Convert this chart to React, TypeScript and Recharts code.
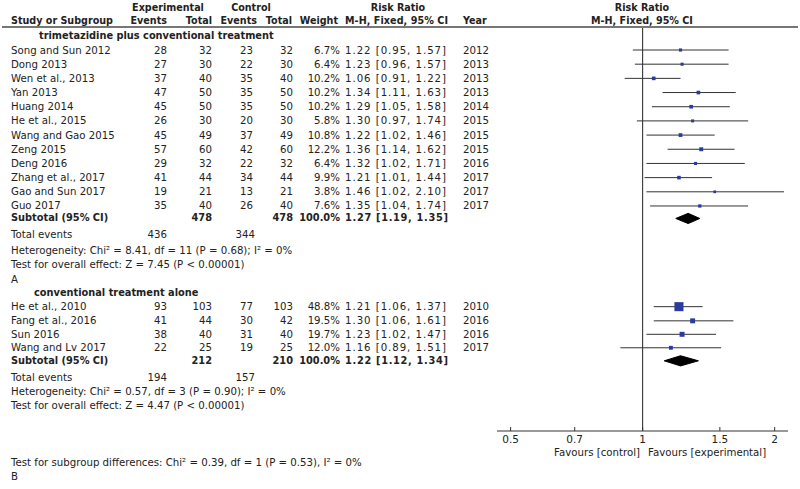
import React from "react";
import { ComposedChart, ErrorBar, ReferenceLine, Scatter, XAxis, YAxis } from "recharts";

// subgroup 1: trimetazidine plus conventional treatment
const studies1 = [
  "Song and Sun 2012", "Dong 2013", "Wen et al., 2013", "Yan 2013", "Huang 2014", "He et al., 2015",
  "Wang and Gao 2015", "Zeng 2015", "Deng 2016", "Zhang et al., 2017", "Gao and Sun 2017", "Guo 2017",
];
const expEvents1 = [28, 27, 37, 47, 45, 26, 45, 57, 29, 41, 19, 35];
const expTotal1 = [32, 30, 40, 50, 50, 30, 49, 60, 32, 44, 21, 40];
const ctlEvents1 = [23, 22, 35, 35, 35, 20, 37, 42, 22, 34, 13, 26];
const ctlTotal1 = [32, 30, 40, 50, 50, 30, 49, 60, 32, 44, 21, 40];
const weight1 = [6.7, 6.4, 10.2, 10.2, 10.2, 5.8, 10.8, 12.2, 6.4, 9.9, 3.8, 7.6];
const rr1 = [1.22, 1.23, 1.06, 1.34, 1.29, 1.3, 1.22, 1.36, 1.32, 1.21, 1.46, 1.35];
const lo1 = [0.95, 0.96, 0.91, 1.11, 1.05, 0.97, 1.02, 1.14, 1.02, 1.01, 1.02, 1.04];
const hi1 = [1.57, 1.57, 1.22, 1.63, 1.58, 1.74, 1.46, 1.62, 1.71, 1.44, 2.1, 1.74];
const years1 = [2012, 2013, 2013, 2013, 2014, 2015, 2015, 2015, 2016, 2017, 2017, 2017];

// subgroup 2: conventional treatment alone
const studies2 = ["He et al., 2010", "Fang et al., 2016", "Sun 2016", "Wang and Lv 2017"];
const expEvents2 = [93, 41, 38, 22];
const expTotal2 = [103, 44, 40, 25];
const ctlEvents2 = [77, 30, 31, 19];
const ctlTotal2 = [103, 42, 40, 25];
const weight2 = [48.8, 19.5, 19.7, 12.0];
const rr2 = [1.21, 1.3, 1.23, 1.16];
const lo2 = [1.06, 1.06, 1.02, 0.89];
const hi2 = [1.37, 1.61, 1.47, 1.51];
const years2 = [2010, 2016, 2016, 2017];

// subtotals [rr, lo, hi]
const subtotal1 = [1.27, 1.19, 1.35];
const subtotal2 = [1.22, 1.12, 1.34];
const totals1 = { expEvents: 436, ctlEvents: 344, expTotal: 478, ctlTotal: 478 };
const totals2 = { expEvents: 194, ctlEvents: 157, expTotal: 212, ctlTotal: 210 };

const ticks = [0.5, 0.7, 1, 1.5, 2];

const FONT = "'DejaVu Sans', sans-serif";
const FS = 10.2;
const FSB = 9.6;
const TXT = "#222";
const BLUE = "#2b3a9e";

// row layout (rows of ~14.2px, row 0 = first study)
const ROW0 = 50;
const ROWH = 14.18;
const rowY = (r: number) => ROW0 + r * ROWH;
const PLOT_TOP = 28;
const PLOT_BOTTOM = 431;
const rMin = (PLOT_TOP - ROW0) / ROWH;
const rMax = (PLOT_BOTTOM - ROW0) / ROWH;

const rows1 = studies1.map((_, i) => i);
const rows2 = [18.1, 19.1, 20.05, 21.0];
const subRow1 = 11.88;
const subRow2 = 21.92;

const fmt = (rr: number, lo: number, hi: number) => `${rr.toFixed(2)} [${lo.toFixed(2)}, ${hi.toFixed(2)}]`;

const points = [
  ...studies1.map((name, i) => ({ name, x: rr1[i], y: rows1[i], w: weight1[i], err: [rr1[i] - lo1[i], hi1[i] - rr1[i]] })),
  ...studies2.map((name, i) => ({ name, x: rr2[i], y: rows2[i], w: weight2[i], err: [rr2[i] - lo2[i], hi2[i] - rr2[i]] })),
];

const diamond = (s: number[], r: number) => [
  { x: s[1], y: r },
  { x: s[0], y: r - 0.36 },
  { x: s[2], y: r },
  { x: s[0], y: r + 0.36 },
  { x: s[1], y: r },
];

const Square = (props: any) => {
  const { cx, cy, payload } = props;
  const s = 0.14 * payload.w + 2.2;
  return <rect x={cx - s / 2} y={cy - s / 2} width={s} height={s} fill={BLUE} />;
};

type T = { x: number; r: number; text: string | number; anchor?: "start" | "middle" | "end"; bold?: boolean; len?: number };

function tableTexts(): T[] {
  const t: T[] = [];
  const studyRow = (r: number, name: string, ee: number, et: number, ce: number, ct: number, w: number, rr: number, lo: number, hi: number, yr: number) => {
    t.push({ x: 11, r, text: name });
    t.push({ x: 167, r, text: ee, anchor: "end" });
    t.push({ x: 212, r, text: et, anchor: "end" });
    t.push({ x: 253, r, text: ce, anchor: "end" });
    t.push({ x: 293, r, text: ct, anchor: "end" });
    t.push({ x: 340, r, text: `${w.toFixed(1)}%`, anchor: "end" });
    t.push({ x: 345, r, text: fmt(rr, lo, hi), len: 101 });
    t.push({ x: 463, r, text: yr });
  };
  t.push({ x: 39, r: -1, text: "trimetazidine plus conventional treatment", bold: true });
  studies1.forEach((n, i) => studyRow(rows1[i], n, expEvents1[i], expTotal1[i], ctlEvents1[i], ctlTotal1[i], weight1[i], rr1[i], lo1[i], hi1[i], years1[i]));
  const sub = (r: number, tot: typeof totals1, s: number[]) => {
    t.push({ x: 11, r, text: "Subtotal (95% CI)", bold: true });
    t.push({ x: 212, r, text: tot.expTotal, anchor: "end", bold: true });
    t.push({ x: 293, r, text: tot.ctlTotal, anchor: "end", bold: true });
    t.push({ x: 340, r, text: "100.0%", anchor: "end", bold: true });
    t.push({ x: 345, r, text: fmt(s[0], s[1], s[2]), bold: true, len: 103 });
  };
  sub(11.8, totals1, subtotal1);
  t.push({ x: 11, r: 12.98, text: "Total events" });
  t.push({ x: 167, r: 12.98, text: totals1.expEvents, anchor: "end" });
  t.push({ x: 255, r: 12.98, text: totals1.ctlEvents, anchor: "end" });
  t.push({ x: 11, r: 14.12, text: "Heterogeneity: Chi² = 8.41, df = 11 (P = 0.68); I² = 0%" });
  t.push({ x: 11, r: 15.14, text: "Test for overall effect: Z = 7.45 (P < 0.00001)" });
  t.push({ x: 11, r: 16.22, text: "A" });
  t.push({ x: 34, r: 17.12, text: "conventional treatment alone", bold: true });
  studies2.forEach((n, i) => studyRow(rows2[i], n, expEvents2[i], expTotal2[i], ctlEvents2[i], ctlTotal2[i], weight2[i], rr2[i], lo2[i], hi2[i], years2[i]));
  sub(21.9, totals2, subtotal2);
  t.push({ x: 11, r: 23.08, text: "Total events" });
  t.push({ x: 167, r: 23.08, text: totals2.expEvents, anchor: "end" });
  t.push({ x: 255, r: 23.08, text: totals2.ctlEvents, anchor: "end" });
  t.push({ x: 11, r: 24.1, text: "Heterogeneity: Chi² = 0.57, df = 3 (P = 0.90); I² = 0%" });
  t.push({ x: 11, r: 25.04, text: "Test for overall effect: Z = 4.47 (P < 0.00001)" });
  t.push({ x: 11, r: 29.1, text: "Test for subgroup differences: Chi² = 0.39, df = 1 (P = 0.53), I² = 0%" });
  t.push({ x: 11, r: 30.1, text: "B" });
  return t;
}

function Table() {
  const texts = tableTexts();
  const hdr = (x: number, y: number, text: string, anchor: "start" | "middle" | "end" = "start", len?: number) => (
    <text x={x} y={y} textAnchor={anchor} dominantBaseline="central" fontWeight="bold" fontSize={FSB}
      textLength={len} lengthAdjust={len ? "spacing" : undefined}>{text}</text>
  );
  return (
    <svg width={800} height={489} style={{ position: "absolute", left: 0, top: 0, pointerEvents: "none" }}
      fontFamily={FONT} fontSize={FS} fill={TXT}>
      {hdr(168, 7, "Experimental", "middle")}
      {hdr(251, 7, "Control", "middle")}
      {hdr(398, 7, "Risk Ratio", "middle")}
      {hdr(642, 7, "Risk Ratio", "middle")}
      {hdr(11, 20.5, "Study or Subgroup")}
      {hdr(167, 20.5, "Events", "end")}
      {hdr(212, 20.5, "Total", "end")}
      {hdr(257, 20.5, "Events", "end")}
      {hdr(292, 20.5, "Total", "end")}
      {hdr(338, 20.5, "Weight", "end")}
      {hdr(345, 20.5, "M-H, Fixed, 95% CI", "start", 103)}
      {hdr(463, 20.5, "Year")}
      {hdr(642, 20.5, "M-H, Fixed, 95% CI", "middle")}
      <line x1={2} x2={798} y1={27} y2={27} stroke="#777" strokeWidth={2} />
      {texts.map((t, i) => (
        <text key={i} x={t.x} y={rowY(t.r)} textAnchor={t.anchor ?? "start"} dominantBaseline="central"
          fontWeight={t.bold ? "bold" : "normal"} fontSize={t.bold ? FSB + 0.2 : FS}
          textLength={t.len} lengthAdjust={t.len ? "spacing" : undefined}>{t.text}</text>
      ))}
      <text x={640} y={452.5} textAnchor="end" dominantBaseline="central">Favours [control]</text>
      <text x={648} y={452.5} textAnchor="start" dominantBaseline="central">Favours [experimental]</text>
    </svg>
  );
}

export default function App() {
  return (
    <div style={{ position: "absolute", left: 0, top: 0, width: 800, height: 489, background: "#fff" }}>
      <ComposedChart width={800} height={489} margin={{ top: PLOT_TOP, right: 12, bottom: 489 - PLOT_BOTTOM - 30, left: 497 }}>
        <XAxis type="number" dataKey="x" scale="log" domain={[0.4655, 2.145]} allowDataOverflow ticks={ticks}
          height={30} stroke="#333" tickSize={-4} tickMargin={9}
          tick={{ fontSize: FS + 0.3, fill: TXT, fontFamily: FONT }} tickFormatter={(v: number) => String(v)} />
        <YAxis type="number" dataKey="y" domain={[rMin, rMax]} reversed hide allowDataOverflow />
        <ReferenceLine x={1} stroke="#222" strokeWidth={1} />
        <Scatter data={points} isAnimationActive={false} shape={Square}>
          <ErrorBar dataKey="err" direction="x" width={0} stroke="#333" strokeWidth={1} />
        </Scatter>
        <Scatter data={diamond(subtotal1, subRow1)} isAnimationActive={false} line={{ fill: "#000", stroke: "#000" }}
          lineType="joint" shape={() => <g />} />
        <Scatter data={diamond(subtotal2, subRow2)} isAnimationActive={false} line={{ fill: "#000", stroke: "#000" }}
          lineType="joint" shape={() => <g />} />
      </ComposedChart>
      <Table />
    </div>
  );
}
